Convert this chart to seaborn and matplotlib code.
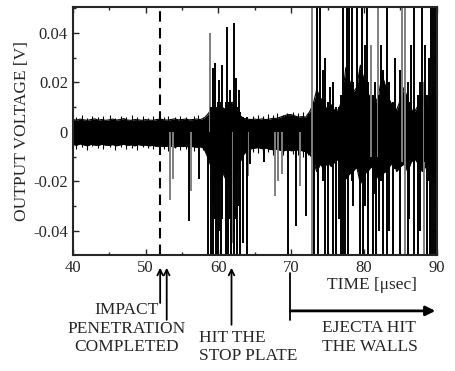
import numpy as np
import seaborn as sns
from matplotlib import pyplot as plt
from matplotlib.ticker import MultipleLocator

# dense noise band of the trace, every 0.5 usec (40 .. 90)
env_time = np.linspace(40, 90, 101)
env_upper = [
    0.0050, 0.0048, 0.0052, 0.0049, 0.0047, 0.0050, 0.0053, 0.0048, 0.0050, 0.0047,
    0.0049, 0.0052, 0.0048, 0.0050, 0.0054, 0.0048, 0.0047, 0.0050, 0.0049, 0.0047,
    0.0050, 0.0048, 0.0047, 0.0050, 0.0052, 0.0049, 0.0048, 0.0050, 0.0053, 0.0049,
    0.0050, 0.0052, 0.0049, 0.0050, 0.0052, 0.0050, 0.0055, 0.0070, 0.0090, 0.0085,
    0.0095, 0.0100, 0.0090, 0.0110, 0.0120, 0.0085, 0.0065, 0.0055, 0.0052, 0.0050,
    0.0052, 0.0050, 0.0053, 0.0050, 0.0052, 0.0055, 0.0055, 0.0060, 0.0065, 0.0070,
    0.0070, 0.0065, 0.0060, 0.0062, 0.0060, 0.0080, 0.0110, 0.0170, 0.0140, 0.0110,
    0.0090, 0.0110, 0.0085, 0.0090, 0.0130, 0.0260, 0.0210, 0.0160, 0.0180, 0.0270,
    0.0210, 0.0160, 0.0130, 0.0110, 0.0150, 0.0230, 0.0180, 0.0130, 0.0100, 0.0090,
    0.0130, 0.0180, 0.0130, 0.0090, 0.0085, 0.0110, 0.0150, 0.0120, 0.0090, 0.0180,
    0.0110,
]
env_lower = [
    -0.0050, -0.0054, -0.0048, -0.0052, -0.0056, -0.0050, -0.0053, -0.0054, -0.0050, -0.0053,
    -0.0054, -0.0051, -0.0056, -0.0052, -0.0050, -0.0054, -0.0052, -0.0056, -0.0051, -0.0054,
    -0.0053, -0.0056, -0.0054, -0.0058, -0.0056, -0.0059, -0.0057, -0.0058, -0.0061, -0.0058,
    -0.0059, -0.0058, -0.0061, -0.0059, -0.0062, -0.0060, -0.0066, -0.0100, -0.0140, -0.0180,
    -0.0200, -0.0160, -0.0190, -0.0220, -0.0200, -0.0170, -0.0120, -0.0090, -0.0072, -0.0068,
    -0.0065, -0.0063, -0.0068, -0.0065, -0.0070, -0.0072, -0.0070, -0.0074, -0.0076, -0.0072,
    -0.0076, -0.0074, -0.0072, -0.0076, -0.0080, -0.0090, -0.0110, -0.0160, -0.0130, -0.0150,
    -0.0120, -0.0140, -0.0120, -0.0110, -0.0130, -0.0190, -0.0170, -0.0160, -0.0140, -0.0210,
    -0.0170, -0.0160, -0.0140, -0.0160, -0.0190, -0.0170, -0.0160, -0.0140, -0.0120, -0.0160,
    -0.0140, -0.0130, -0.0160, -0.0120, -0.0110, -0.0130, -0.0160, -0.0140, -0.0120, -0.0180,
    -0.0140,
]

# short hairs sticking out of the quiet band
fringe_time = [40.4, 41.2, 41.9, 42.7, 43.5, 44.2, 45.1, 45.8, 46.6, 47.3, 48.1, 48.8,
               49.6, 50.3, 51.0, 51.8, 52.5, 53.1, 54.0, 54.7, 55.5, 56.6, 57.2, 57.9,
               64.7, 65.4, 66.1, 66.8, 67.5, 68.1, 68.9, 69.4, 70.2, 70.9, 71.6, 72.3]
fringe_low = [-0.0068, -0.0060, -0.0072, -0.0058, -0.0066, -0.0070, -0.0062, -0.0074, -0.0060, -0.0068,
              -0.0064, -0.0072, -0.0060, -0.0066, -0.0070, -0.0062, -0.0068, -0.0075, -0.0066, -0.0072,
              -0.0070, -0.0078, -0.0068, -0.0074, -0.0082, -0.0085, -0.0090, -0.0080, -0.0095, -0.0088,
              -0.0092, -0.0100, -0.0090, -0.0095, -0.0100, -0.0092]
fringe_high = [0.0062, 0.0068, 0.0058, 0.0066, 0.0060, 0.0064, 0.0070, 0.0058, 0.0066, 0.0062,
               0.0069, 0.0060, 0.0065, 0.0058, 0.0063, 0.0067, 0.0060, 0.0064, 0.0062, 0.0066,
               0.0060, 0.0064, 0.0068, 0.0062, 0.0065, 0.0070, 0.0066, 0.0072, 0.0068, 0.0075,
               0.0070, 0.0078, 0.0082, 0.0076, 0.0080, 0.0078]

# single spikes (time, lowest, highest); +-0.06 means off the frame
spike_time = [55.9, 57.4,
              58.57, 58.93, 59.2, 59.3, 59.5, 59.63, 59.99, 60.1, 60.36, 60.5,
              61.01, 61.2, 61.37, 61.6, 61.74, 62.1, 62.19, 62.4, 62.52, 62.8,
              62.97, 63.4, 63.89, 64.4, 66.3, 69.6, 70.6, 72.1,
              73.2, 73.5, 73.7, 73.9, 74.3, 74.6, 75.1, 75.3, 75.8, 76.2, 76.6, 76.9,
              77.1, 77.4, 77.6, 77.8, 78.0, 78.3, 78.5, 79.0, 79.4, 79.7, 79.9,
              80.1, 80.4, 80.6, 81.3, 81.5, 81.7, 82.0, 82.3, 82.6, 83.1, 83.5, 84.0, 84.2, 84.9,
              85.0, 86.0, 86.2, 86.5, 86.8, 87.4, 87.7, 87.9, 88.4, 88.6, 88.9, 89.0, 89.2,
              89.5, 89.8]
spike_low = [-0.036, -0.019,
             -0.06, -0.06, -0.03, -0.06, -0.035, -0.06, -0.06, -0.04, -0.06, -0.035,
             -0.06, -0.04, -0.06, -0.035, -0.06, -0.04, -0.06, -0.035, -0.06, -0.03,
             -0.06, -0.045, -0.06, -0.013, -0.012, -0.06, -0.038, -0.034,
             -0.06, -0.012, -0.06, -0.012, -0.02, -0.06, -0.06, -0.01, -0.06, -0.06, -0.035, -0.06,
             -0.06, -0.06, -0.015, -0.06, -0.015, -0.02, -0.03, -0.015, -0.06, -0.015, -0.06,
             -0.03, -0.015, -0.06, -0.06, -0.025, -0.06, -0.04, -0.02, -0.06, -0.06, -0.04, -0.06, -0.015, -0.06,
             -0.02, -0.06, -0.035, -0.012, -0.06, -0.06, -0.04, -0.012, -0.012, -0.06, -0.02, -0.06, -0.06,
             -0.06, -0.06]
spike_high = [0.0, 0.0,
              0.005, 0.01, 0.026, 0.01, 0.028, 0.01, 0.012, 0.021, 0.012, 0.027,
              0.012, 0.0425, 0.012, 0.017, 0.012, 0.044, 0.012, 0.022, 0.01, 0.017,
              0.008, 0.006, 0.006, 0.0, 0.0, 0.0, 0.0, 0.0,
              0.012, 0.06, 0.015, 0.06, 0.025, 0.03, 0.012, 0.018, 0.02, 0.01, 0.01, 0.015,
              0.06, 0.02, 0.06, 0.025, 0.06, 0.06, 0.02, 0.06, 0.025, 0.06, 0.02,
              0.035, 0.06, 0.02, 0.015, 0.02, 0.012, 0.015, 0.035, 0.025, 0.06, 0.02, 0.012, 0.03, 0.012,
              0.025, 0.02, 0.012, 0.035, 0.06, 0.015, 0.02, 0.06, 0.035, 0.015, 0.03, 0.015, 0.06,
              0.06, 0.06]

# fainter (grey in the scan) spikes
grey_time = [53.3, 53.7, 56.3, 58.8, 61.9, 63.0, 64.0, 67.8, 68.2, 68.7, 71.2,
             72.8, 81.0, 81.9, 85.2, 85.6, 88.2]
grey_low = [-0.0275, -0.019, -0.024, 0.0, -0.045, -0.05, -0.018, -0.026, -0.020, -0.017, -0.022,
            -0.06, -0.01, -0.01, -0.012, -0.06, -0.05]
grey_high = [0.0, 0.0, 0.0, 0.040, 0.0, 0.0, 0.0, 0.0, 0.0, 0.0, 0.0,
             0.06, 0.035, 0.06, 0.06, 0.06, 0.02]

y_ticks = [-0.04, -0.02, 0, 0.02, 0.04]
y_ticklabels = ["-0.04", "-0.02", "0", "0.02", "0.04"]

sns.set_style("ticks")
plt.rcParams['font.family'] = ['Liberation Serif', 'DejaVu Serif']

fig = plt.figure(figsize=(4.55, 3.71), dpi=100)
ax = fig.add_axes([0.160, 0.313, 0.800, 0.668])

ax.fill_between(env_time, env_lower, env_upper, color="black", lw=0)
sns.lineplot(x=env_time, y=env_upper, ax=ax, color="black", lw=0.8)
sns.lineplot(x=env_time, y=env_lower, ax=ax, color="black", lw=0.8)
ax.vlines(fringe_time, fringe_low, fringe_high, color="black", lw=0.8)
ax.vlines(grey_time, grey_low, grey_high, color="#808080", lw=1.4)
ax.vlines(spike_time, spike_low, spike_high, color="black", lw=1.4)

ax.axvline(52, color="black", lw=1.5, ls=(0, (5, 3)))

ax.set_xlim(40, 90)
ax.set_ylim(-0.0497, 0.0505)
ax.xaxis.set_major_locator(MultipleLocator(10))
ax.xaxis.set_minor_locator(MultipleLocator(5))
ax.set_yticks(y_ticks)
ax.set_yticklabels(y_ticklabels)
ax.yaxis.set_minor_locator(MultipleLocator(0.01))
ax.tick_params(which="both", direction="in", top=True, right=True, labelsize=12, width=1)
ax.tick_params(which="major", length=4)
ax.tick_params(which="minor", length=2.5)
for s in ax.spines.values():
    s.set_linewidth(1.5)
ax.set_ylabel("OUTPUT VOLTAGE [V]", fontsize=12.5, labelpad=2)
ax.set_xlabel("")

tr = ax.get_xaxis_transform()
ax.text(81.1, -0.121, "TIME [\u03bcsec]", transform=tr, ha="center", va="center", fontsize=12.5)

arr = dict(arrowstyle="->", color="black", lw=1.3, shrinkA=0, shrinkB=0)
ax.annotate("", xy=(52.0, -0.052), xytext=(52.0, -0.194), xycoords=tr, textcoords=tr,
            arrowprops=arr, annotation_clip=False)
ax.annotate("", xy=(52.9, -0.052), xytext=(52.9, -0.262), xycoords=tr, textcoords=tr,
            arrowprops=arr, annotation_clip=False)
ax.text(47.4, -0.298, "IMPACT\nPENETRATION\nCOMPLETED", transform=tr,
        ha="center", va="center", fontsize=12.5, linespacing=1.2)

ax.annotate("", xy=(61.8, -0.052), xytext=(61.8, -0.282), xycoords=tr, textcoords=tr,
            arrowprops=arr, annotation_clip=False)
ax.text(57.4, -0.371, "HIT THE\nSTOP PLATE", transform=tr,
        ha="left", va="center", fontsize=12.5, linespacing=1.2)

ax.plot([69.9, 69.9], [-0.073, -0.262], color="black", lw=1.3, transform=tr, clip_on=False)
ax.annotate("", xy=(89.8, -0.226), xytext=(69.9, -0.226), xycoords=tr, textcoords=tr,
            arrowprops=dict(arrowstyle="-|>", color="black", lw=2, shrinkA=0, shrinkB=0,
                            mutation_scale=14), annotation_clip=False)
ax.text(74.2, -0.333, "EJECTA HIT\nTHE WALLS", transform=tr,
        ha="left", va="center", fontsize=12.5, linespacing=1.2)

fig.savefig("out.png", dpi=100)
